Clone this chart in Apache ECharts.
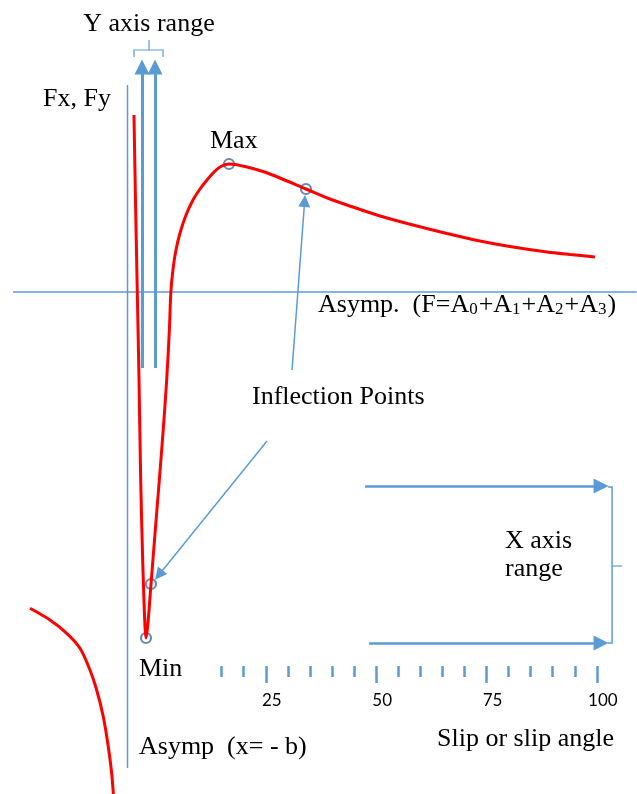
<!DOCTYPE html>
<html>
<head>
<meta charset="utf-8">
<script src="https://cdn.jsdelivr.net/npm/echarts@6.0.0/dist/echarts.min.js"></script>
<style>
  html, body { margin: 0; padding: 0; background: #fff; }
  #chart { width: 637px; height: 794px; }
</style>
</head>
<body>
<div id="chart"></div>
<script>
// curve (x = slip, y = force, asymptote at 0)
var mainX = [-4.87, -4.53, -4.12, -3.73, -3.35, -2.90, -2.53, -2.33, -2.15, -1.74, -1.01, -0.04, 0.87, 1.75, 2.54, 3.15, 3.49, 4.04, 4.65, 5.56, 6.92, 8.50, 10.09, 11.67, 13.26, 14.62, 16.66, 20.28, 24.36, 28.21, 34.10, 39.54, 43.39, 50.87, 58.35, 66.05, 73.53, 81.00, 88.71, 93.92, 99.58];
var mainY = [1.77, 0.92, 0, -0.88, -1.88, -2.68, -3.18, -3.38, -3.46, -3.33, -2.92, -2.38, -1.88, -1.38, -0.88, -0.38, 0, 0.25, 0.42, 0.59, 0.77, 0.92, 1.03, 1.12, 1.20, 1.25, 1.28, 1.255, 1.205, 1.14, 1.03, 0.93, 0.87, 0.76, 0.67, 0.585, 0.51, 0.45, 0.40, 0.375, 0.35];
var leftX = [-28.43, -23.90, -20.11, -17.10, -14.84, -13.32, -11.82, -10.69, -9.92, -9.56, -9.49];
var leftY = [-3.163, -3.28, -3.413, -3.563, -3.78, -3.98, -4.247, -4.547, -4.813, -5.013, -5.08];

// min, inflection, max, inflection
var markX = [-2.15, -1.01, 16.66, 34.10];
var markY = [-3.46, -2.92, 1.28, 1.03];

var minorTicks = [15, 20, 30, 35, 40, 45, 55, 60, 65, 70, 80, 85, 90, 95];
var majorTicks = [25, 50, 75, 100];

var asympY = 0;
var asympX = -6.33;

var blue = '#5b9bd5';
var serif = '"Liberation Serif", "Times New Roman", serif';

function zip(xs, ys) {
    return xs.map(function (x, i) { return [x, ys[i]]; });
}

var chart = echarts.init(document.getElementById('chart'));

// arrows (end point is the centre of the head)
var arrows = [
    { coords: [[-3.05, -0.76], [-3.05, 2.25]], lineStyle: { width: 3 } },
    { coords: [[-0.10, -0.76], [-0.10, 2.25]], lineStyle: { width: 3 } },
    { coords: [[30.94, -0.78], [33.80, 0.91]], lineStyle: { width: 1.5 }, symbolSize: [0, 12] },
    { coords: [[25.28, -1.49], [0.76, -2.83]], lineStyle: { width: 1.5 }, symbolSize: [0, 12] },
    { coords: [[47.48, -1.94], [100.96, -1.94]], lineStyle: { width: 2.5 } },
    { coords: [[48.39, -3.51], [100.96, -3.51]], lineStyle: { width: 2.5 } }
];

var plainLines = [
    { coords: [[-32.3, asympY], [109, asympY]], lineStyle: { width: 1.5 } },
    { coords: [[asympX, 2.07], [asympX, -4.76]], lineStyle: { width: 1.5 } },
    // Y axis range bracket
    { coords: [[-4.86, 2.35], [-4.86, 2.42], [1.71, 2.42], [1.71, 2.35]], lineStyle: { width: 1.2 } },
    { coords: [[-1.46, 2.42], [-1.46, 2.52]], lineStyle: { width: 1.2 } },
    // X axis range bracket
    { coords: [[102.5, -1.95], [103.45, -1.95], [103.45, -3.51], [102.5, -3.51]], lineStyle: { width: 1.5 } },
    { coords: [[103.45, -2.74], [105.72, -2.74]], lineStyle: { width: 1.2 } }
];

var xMin = -35, xMax = 109.1;

var option = {
    animation: false,
    grid: [
        { left: 1, right: 0, top: 0, bottom: 0 },
        { left: 1, right: 0, top: 600, bottom: 128 },
        { left: 1, right: 0, top: 600, bottom: 128 }
    ],
    xAxis: [
        { gridIndex: 0, type: 'value', min: xMin, max: xMax, show: false },
        {
            gridIndex: 1, type: 'value', min: xMin, max: xMax,
            axisLine: { show: false },
            splitLine: { show: false },
            axisTick: { show: true, customValues: minorTicks, length: 11, lineStyle: { color: blue, width: 2.5 } },
            axisLabel: { show: false }
        },
        {
            gridIndex: 2, type: 'value', min: xMin, max: xMax,
            axisLine: { show: false },
            splitLine: { show: false },
            axisTick: { show: true, customValues: majorTicks, length: 17, lineStyle: { color: blue, width: 2.5 } },
            axisLabel: {
                show: true, customValues: majorTicks, margin: 26,
                fontFamily: 'Lato, "Open Sans", sans-serif', fontSize: 17, color: '#000',
                padding: [0, 0, 0, 12]
            }
        }
    ],
    yAxis: [
        { gridIndex: 0, type: 'value', min: -5.02, max: 2.92, show: false },
        { gridIndex: 1, type: 'value', show: false },
        { gridIndex: 2, type: 'value', show: false }
    ],
    series: [
        {
            type: 'lines', coordinateSystem: 'cartesian2d', xAxisIndex: 0, yAxisIndex: 0,
            polyline: true, symbol: 'none',
            lineStyle: { color: blue, opacity: 1, curveness: 0 },
            data: plainLines
        },
        {
            type: 'lines', coordinateSystem: 'cartesian2d', xAxisIndex: 0, yAxisIndex: 0,
            symbol: ['none', 'triangle'], symbolSize: [0, 15],
            lineStyle: { color: blue, opacity: 1, curveness: 0 },
            itemStyle: { color: blue },
            data: arrows
        },
        {
            type: 'line', xAxisIndex: 0, yAxisIndex: 0,
            data: zip(leftX, leftY), smooth: 0.3, showSymbol: false,
            lineStyle: { color: '#ff0000', width: 3 }
        },
        {
            type: 'line', xAxisIndex: 0, yAxisIndex: 0,
            data: zip(mainX, mainY), smooth: 0.3, showSymbol: false,
            lineStyle: { color: '#ff0000', width: 3 }
        },
        {
            type: 'scatter', xAxisIndex: 0, yAxisIndex: 0,
            data: zip(markX, markY), symbol: 'circle', symbolSize: 10,
            itemStyle: { color: 'rgba(0,0,0,0)', borderColor: '#41719c', borderWidth: 2.2 }
        }
    ],
    graphic: [
        { type: 'text', x: 149, y: 24, style: { text: 'Y axis range', font: '26px ' + serif, fill: '#000', textAlign: 'center', textVerticalAlign: 'middle' } },
        { type: 'text', x: 43, y: 99, style: { text: 'Fx, Fy', font: '26px ' + serif, fill: '#000', textVerticalAlign: 'middle' } },
        { type: 'text', x: 210, y: 141, style: { text: 'Max', font: '26px ' + serif, fill: '#000', textVerticalAlign: 'middle' } },
        {
            type: 'text', x: 318, y: 305,
            style: {
                text: '{n|Asymp.  (F=A}{s|0}{n|+A}{s|1}{n|+A}{s|2}{n|+A}{s|3}{n|)}',
                fill: '#000', textVerticalAlign: 'middle',
                rich: {
                    n: { fontFamily: serif, fontSize: 26, lineHeight: 26, color: '#000' },
                    s: { fontFamily: serif, fontSize: 17, lineHeight: 17, color: '#000', verticalAlign: 'bottom', padding: [0, 1, 0, 0] }
                }
            }
        },
        { type: 'text', x: 252, y: 397, style: { text: 'Inflection Points', font: '26px ' + serif, fill: '#000', textVerticalAlign: 'middle' } },
        { type: 'text', x: 505, y: 541, style: { text: 'X axis', font: '26px ' + serif, fill: '#000', textVerticalAlign: 'middle' } },
        { type: 'text', x: 505, y: 569, style: { text: 'range', font: '26px ' + serif, fill: '#000', textVerticalAlign: 'middle' } },
        { type: 'text', x: 139, y: 669, style: { text: 'Min', font: '26px ' + serif, fill: '#000', textVerticalAlign: 'middle' } },
        { type: 'text', x: 139, y: 747, style: { text: 'Asymp  (x= - b)', font: '26px ' + serif, fill: '#000', textVerticalAlign: 'middle' } },
        { type: 'text', x: 437, y: 739, style: { text: 'Slip or slip angle', font: '26px ' + serif, fill: '#000', textVerticalAlign: 'middle' } }
    ]
};

chart.setOption(option);
</script>
</body>
</html>
